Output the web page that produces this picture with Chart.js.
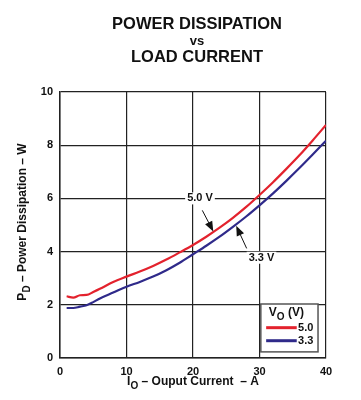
<!DOCTYPE html>
<html>
<head>
<meta charset="utf-8">
<script src="https://cdn.jsdelivr.net/npm/chart.js@4.4.1/dist/chart.umd.min.js"></script>
<style>
  html, body { margin: 0; padding: 0; background: #fff; }
  #wrap { width: 361px; height: 400px; position: relative; }
</style>
</head>
<body>
<div id="wrap"><canvas id="chart" width="361" height="400"></canvas></div>
<script>
// load current (A)
var current = [1, 2, 3, 4, 5, 6, 8, 10, 12, 14, 16, 18, 20, 22, 24, 26, 28, 30, 32, 34, 36, 38, 40];
// power dissipation (W) for each output voltage
var pd50 = [2.32, 2.27, 2.36, 2.37, 2.48, 2.6, 2.86, 3.06, 3.25, 3.46, 3.7, 3.97, 4.25, 4.56, 4.9, 5.27, 5.68, 6.13, 6.6, 7.1, 7.62, 8.18, 8.76];
var pd33 = [1.88, 1.88, 1.93, 1.98, 2.1, 2.24, 2.46, 2.68, 2.86, 3.06, 3.3, 3.58, 3.9, 4.22, 4.56, 4.93, 5.32, 5.74, 6.18, 6.65, 7.14, 7.65, 8.17];
var xTicks = [0, 10, 20, 30, 40];
var yTicks = [0, 2, 4, 6, 8, 10];

var RED = '#e3222d';
var BLUE = '#2f2a8a';
var INK = '#111';
var FONT = '"Liberation Sans", Arial, sans-serif';

function toPoints(xs, ys) {
    var pts = [];
    for (var i = 0; i < xs.length; i++) {
        pts.push({ x: xs[i], y: ys[i] });
    }
    return pts;
}

// text with a subscript, e.g. P + D
function subText(ctx, parts, x, y, size, align) {
    var small = 'bold ' + Math.round(size * 0.8) + 'px ' + FONT;
    var total = 0;
    parts.forEach(function (p) {
        ctx.font = p.sub ? small : 'bold ' + size + 'px ' + FONT;
        total += ctx.measureText(p.t).width;
    });
    var cx = align === 'center' ? x - total / 2 : x;
    ctx.textAlign = 'left';
    ctx.textBaseline = 'middle';
    parts.forEach(function (p) {
        ctx.font = p.sub ? small : 'bold ' + size + 'px ' + FONT;
        ctx.fillText(p.t, cx, p.sub ? y + size * 0.35 : y);
        cx += ctx.measureText(p.t).width;
    });
}

function arrow(ctx, x1, y1, x2, y2) {
    var a = Math.atan2(y2 - y1, x2 - x1);
    ctx.strokeStyle = INK;
    ctx.fillStyle = INK;
    ctx.lineWidth = 1;
    ctx.beginPath();
    ctx.moveTo(x1, y1);
    ctx.lineTo(x2 - 8 * Math.cos(a), y2 - 8 * Math.sin(a));
    ctx.stroke();
    ctx.beginPath();
    ctx.moveTo(x2, y2);
    ctx.lineTo(x2 - 10 * Math.cos(a) + 4 * Math.sin(a), y2 - 10 * Math.sin(a) - 4 * Math.cos(a));
    ctx.lineTo(x2 - 10 * Math.cos(a) - 4 * Math.sin(a), y2 - 10 * Math.sin(a) + 4 * Math.cos(a));
    ctx.closePath();
    ctx.fill();
}

function label(ctx, txt, x, y) {
    ctx.font = 'bold 11px ' + FONT;
    var w = ctx.measureText(txt).width;
    ctx.fillStyle = '#fff';
    ctx.fillRect(x - w / 2 - 2, y - 6, w + 4, 12);
    ctx.fillStyle = INK;
    ctx.textAlign = 'center';
    ctx.textBaseline = 'middle';
    ctx.fillText(txt, x, y);
}

var extras = {
    id: 'extras',
    afterDraw: function (chart) {
        var ctx = chart.ctx;
        var xs = chart.scales.x, ys = chart.scales.y;
        var area = chart.chartArea;
        var px = function (v) { return xs.getPixelForValue(v); };
        var py = function (v) { return ys.getPixelForValue(v); };
        ctx.save();

        // titles
        ctx.fillStyle = INK;
        ctx.textAlign = 'center';
        ctx.textBaseline = 'middle';
        ctx.font = 'bold 16.5px ' + FONT;
        ctx.fillText('POWER DISSIPATION', 197, 24);
        ctx.font = 'bold 13px ' + FONT;
        ctx.fillText('vs', 197, 41);
        ctx.font = 'bold 16.5px ' + FONT;
        ctx.fillText('LOAD CURRENT', 197, 57);

        // axis titles
        subText(ctx, [{ t: 'I' }, { t: 'O', sub: true }, { t: ' \u2013 Ouput Current  \u2013 A' }],
            (area.left + area.right) / 2, 382, 12, 'center');
        ctx.save();
        ctx.translate(23, (area.top + area.bottom) / 2 - 3);
        ctx.rotate(-Math.PI / 2);
        subText(ctx, [{ t: 'P' }, { t: 'D', sub: true }, { t: ' \u2013 Power Dissipation \u2013 W' }], 0, 0, 12, 'center');
        ctx.restore();

        // curve callouts
        label(ctx, '5.0 V', px(21.05), py(6));
        arrow(ctx, px(21.4), py(5.55), px(23.05), py(4.76));
        label(ctx, '3.3 V', px(30.3), py(3.77));
        arrow(ctx, px(28.07), py(4.12), px(26.5), py(4.97));

        // legend box
        var bx1 = px(30.2), bx2 = px(38.8), by1 = py(2.03), by2 = py(0.23);
        ctx.fillStyle = '#fff';
        ctx.fillRect(bx1, by1, bx2 - bx1, by2 - by1);
        ctx.strokeStyle = '#555';
        ctx.lineWidth = 1.5;
        ctx.strokeRect(bx1, by1, bx2 - bx1, by2 - by1);
        ctx.fillStyle = INK;
        subText(ctx, [{ t: 'V' }, { t: 'O', sub: true }, { t: ' (V)' }], (bx1 + bx2) / 2 - 3, py(1.7), 12, 'center');
        [[RED, '5.0', 1.14], [BLUE, '3.3', 0.65]].forEach(function (e) {
            ctx.strokeStyle = e[0];
            ctx.lineWidth = 3;
            ctx.beginPath();
            ctx.moveTo(px(31.0), py(e[2]));
            ctx.lineTo(px(35.6), py(e[2]));
            ctx.stroke();
            ctx.fillStyle = INK;
            ctx.font = 'bold 11px ' + FONT;
            ctx.textAlign = 'left';
            ctx.textBaseline = 'middle';
            ctx.fillText(e[1], px(35.8), py(e[2]));
        });
        ctx.restore();
    }
};

var myChart = new Chart(document.getElementById('chart').getContext('2d'), {
    type: 'line',
    data: {
        datasets: [
            {
                label: '5.0',
                data: toPoints(current, pd50),
                borderColor: RED,
                borderWidth: 2.2,
                pointRadius: 0,
                cubicInterpolationMode: 'monotone'
            },
            {
                label: '3.3',
                data: toPoints(current, pd33),
                borderColor: BLUE,
                borderWidth: 2.2,
                pointRadius: 0,
                cubicInterpolationMode: 'monotone'
            }
        ]
    },
    options: {
        responsive: false,
        animation: false,
        events: [],
        layout: { padding: { left: 0, top: 92, right: 35, bottom: 0 } },
        plugins: {
            legend: { display: false },
            title: { display: false },
            tooltip: { enabled: false }
        },
        scales: {
            x: {
                type: 'linear',
                min: 0,
                max: 40,
                afterFit: function (axis) { axis.height = 42; },
                afterBuildTicks: function (axis) { axis.ticks = xTicks.map(function (v) { return { value: v }; }); },
                grid: { color: '#222', lineWidth: 1.2, drawTicks: false },
                border: { color: '#222', width: 1.5 },
                ticks: { color: INK, padding: 7, font: { family: FONT, size: 11, weight: 'bold' } }
            },
            y: {
                min: 0,
                max: 10,
                afterFit: function (axis) { axis.width = 60; },
                afterBuildTicks: function (axis) { axis.ticks = yTicks.map(function (v) { return { value: v }; }); },
                grid: { color: '#222', lineWidth: 1.2, drawTicks: false },
                border: { color: '#222', width: 1.5 },
                ticks: { color: INK, padding: 7, font: { family: FONT, size: 11, weight: 'bold' } }
            }
        }
    },
    plugins: [extras]
});
</script>
</body>
</html>
